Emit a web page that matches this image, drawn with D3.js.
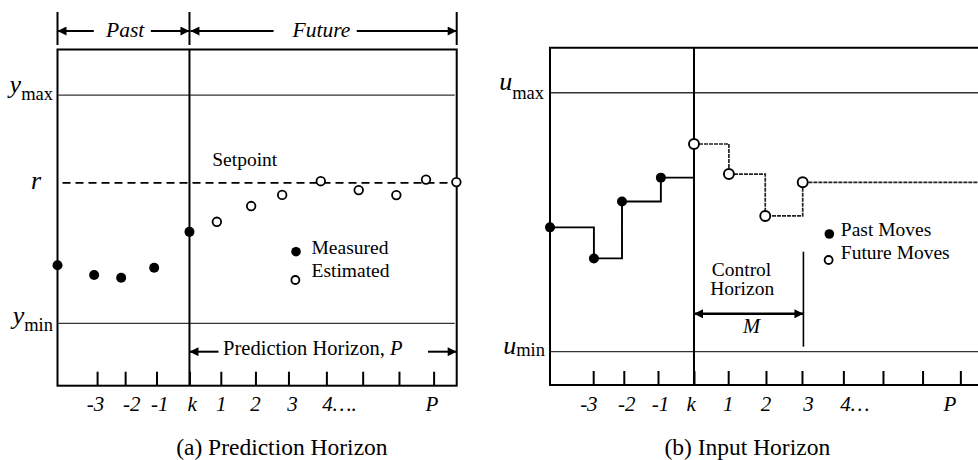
<!DOCTYPE html>
<html lang="en">

<head>
    <meta charset="UTF-8">
    <title>MPC horizons</title>
    <script src="https://cdn.jsdelivr.net/npm/d3@7"></script>
    <style>
        body {
            margin: 0;
            background: #fff;
        }

        svg {
            display: block;
        }

        text {
            font-family: "Liberation Serif", "Times New Roman", serif;
            fill: #000;
        }
    </style>
</head>

<body>
    <svg width="978" height="460"></svg>
    <script>
        // time axis, k = 0; tick marks are shared by both panels
        var tickPos = [-2.8, -1.95, -1, 0, 0.95, 2, 3, 4.15, 5.25, 6.35, 7.4];
        var leftTickLabels = ['-3', '-2', '-1', 'k', '1', '2', '3', '4….', 'P'];
        var leftLabelPos = [-2.85, -1.75, -0.9, 0.08, 0.96, 2, 3.12, 4.55, 7.35];
        var rightTickLabels = ['-3', '-2', '-1', 'k', '1', '2', '3', '4…', 'P'];
        var rightLabelPos = [-2.92, -1.87, -0.93, -0.08, 0.95, 2, 3.18, 4.47, 7.11];

        // (a) outputs: ymin = 0, ymax = 10
        var yMin = 0, yMax = 10, setpoint = 6.16;
        var measuredT = [-4, -2.89, -2.07, -1.07, 0];
        var measuredY = [2.55, 2.12, 2.0, 2.44, 4.01];
        var estimatedT = [0.83, 1.87, 2.81, 3.98, 5.13, 6.27, 7.17, 8.09];
        var estimatedY = [4.45, 5.14, 5.63, 6.23, 5.84, 5.62, 6.3, 6.19];

        // (b) inputs: umin = 0, umax = 10
        var uMin = 0, uMax = 10;
        var pastMoveT = [-4, -2.78, -2.0, -0.92];
        var pastMoveU = [4.8, 3.6, 5.8, 6.72];
        var futureMoveT = [0, 0.97, 1.98, 3.02];
        var futureMoveU = [8.02, 6.86, 5.24, 6.54];
        var controlHorizon = 3.04;

        var svg = d3.select('svg');

        // arrow head
        svg.append('defs').append('marker')
            .attr('id', 'arrow')
            .attr('viewBox', '0 0 10 10')
            .attr('refX', 10).attr('refY', 5)
            .attr('markerUnits', 'userSpaceOnUse')
            .attr('markerWidth', 11).attr('markerHeight', 9)
            .attr('orient', 'auto-start-reverse')
            .append('path').attr('d', 'M0,0L10,5L0,10z').attr('fill', '#000');

        function line(g, x1, y1, x2, y2, w, color) {
            return g.append('line')
                .attr('x1', x1).attr('y1', y1).attr('x2', x2).attr('y2', y2)
                .attr('stroke', color || '#000').attr('stroke-width', w);
        }

        function txt(g, x, y, s, size, opts) {
            opts = opts || {};
            return g.append('text').attr('x', x).attr('y', y).text(s)
                .attr('font-size', size)
                .attr('font-style', opts.italic ? 'italic' : null)
                .attr('text-anchor', opts.anchor || 'start');
        }

        // italic letter with small roman subscript, e.g. y max
        function limitLabel(g, x, y, main, sub, drop) {
            var t = g.append('text').attr('x', x).attr('y', y).attr('text-anchor', 'end');
            t.append('tspan').text(main).attr('font-style', 'italic').attr('font-size', 26);
            t.append('tspan').text(sub).attr('font-size', 18.5).attr('dy', drop);
        }

        function ticks(g, x, bottom) {
            var axis = d3.axisBottom(x).tickValues(tickPos).tickFormat('')
                .tickSizeInner(-14).tickSizeOuter(0);
            var a = g.append('g').attr('transform', 'translate(0,' + bottom + ')').call(axis);
            a.select('.domain').remove();
            a.selectAll('.tick line').attr('stroke', '#000').attr('stroke-width', 2);
        }

        function tickLabels(g, x, pos, labels) {
            g.selectAll('.tlab').data(labels).enter().append('text')
                .attr('class', 'tlab')
                .attr('x', function (d, i) { return x(pos[i]); })
                .attr('y', 411)
                .attr('text-anchor', 'middle')
                .attr('font-size', 21)
                .attr('font-style', 'italic')
                .text(function (d) { return d; });
        }

        // ---------- (a) Prediction Horizon ----------
        var xa = d3.scaleLinear().domain([-4, 8.1]).range([57.5, 456.7]);
        var ya = d3.scaleLinear().domain([-2.73, 12]).range([385.7, 49.5]);
        var ga = svg.append('g');

        line(ga, xa(-4) + 1, ya(yMax), xa(8.1) - 2, ya(yMax), 1.3, '#333');
        line(ga, xa(-4) + 1, ya(yMin), xa(8.1) - 2, ya(yMin), 1.3, '#333');
        line(ga, xa(-4) + 5, ya(setpoint), xa(8.1) - 2, ya(setpoint), 1.7)
            .attr('stroke-dasharray', '8,5');

        ga.append('rect')
            .attr('x', xa(-4)).attr('y', ya(12))
            .attr('width', xa(8.1) - xa(-4)).attr('height', ya(-2.73) - ya(12))
            .attr('fill', 'none').attr('stroke', '#000').attr('stroke-width', 2);
        line(ga, xa(0), ya(12), xa(0), ya(-2.73), 2);
        ticks(ga, xa, ya(-2.73));
        tickLabels(ga, xa, leftLabelPos, leftTickLabels);

        // past / future bracket
        [xa(-4), xa(0), xa(8.1)].forEach(function (x) { line(ga, x, 12, x, 45, 2); });
        line(ga, xa(-2.9), 31, xa(-4), 31, 2).attr('marker-end', 'url(#arrow)');
        line(ga, xa(-1.17), 31, xa(0), 31, 2).attr('marker-end', 'url(#arrow)');
        line(ga, xa(2.55), 31, xa(0) + 1, 31, 2).attr('marker-end', 'url(#arrow)');
        line(ga, xa(5.07), 31, xa(8.1), 31, 2).attr('marker-end', 'url(#arrow)');
        txt(ga, xa(-1.95), 37, 'Past', 21.5, { italic: true, anchor: 'middle' });
        txt(ga, xa(4.0), 37, 'Future', 21.5, { italic: true, anchor: 'middle' });

        // prediction horizon
        line(ga, xa(0.88), ya(-1.24), xa(0), ya(-1.24), 2).attr('marker-end', 'url(#arrow)');
        line(ga, xa(7.23), ya(-1.24), xa(8.1), ya(-1.24), 2).attr('marker-end', 'url(#arrow)');
        var ph = txt(ga, xa(1.02), 355, 'Prediction Horizon, ', 20.5);
        ph.append('tspan').attr('font-style', 'italic').text('P');

        txt(ga, xa(0.69), 166, 'Setpoint', 19.5);
        limitLabel(ga, 53, ya(yMax) - 2, 'y', 'max', 7);
        limitLabel(ga, 53, ya(yMin) + 1, 'y', 'min', 7);
        txt(ga, 41, ya(setpoint) + 6, 'r', 26, { italic: true, anchor: 'end' });

        ga.selectAll('.meas').data(measuredT).enter().append('circle')
            .attr('cx', function (d) { return xa(d); })
            .attr('cy', function (d, i) { return ya(measuredY[i]); })
            .attr('r', 5).attr('fill', '#000');
        ga.selectAll('.est').data(estimatedT).enter().append('circle')
            .attr('cx', function (d) { return xa(d); })
            .attr('cy', function (d, i) { return ya(estimatedY[i]); })
            .attr('r', 4.3).attr('fill', '#fff').attr('stroke', '#000').attr('stroke-width', 1.8);

        // legend
        ga.append('circle').attr('cx', xa(3.23)).attr('cy', ya(3.14)).attr('r', 4.8).attr('fill', '#000');
        ga.append('circle').attr('cx', xa(3.21)).attr('cy', ya(1.9)).attr('r', 4)
            .attr('fill', '#fff').attr('stroke', '#000').attr('stroke-width', 1.8);
        txt(ga, xa(3.7), 254, 'Measured', 19.5);
        txt(ga, xa(3.7), 277, 'Estimated', 19.5);

        txt(ga, xa(2.8), 455, '(a) Prediction Horizon', 23.5, { anchor: 'middle' });

        // ---------- (b) Input Horizon ----------
        var xb = d3.scaleLinear().domain([-4, 7.89]).range([550, 978]);
        var yb = d3.scaleLinear().domain([-1.29, 11.74]).range([385, 47.7]);
        var gb = svg.append('g');

        line(gb, xb(-4) + 1, yb(uMax), 980, yb(uMax), 1.3, '#333');
        line(gb, xb(-4) + 1, yb(uMin), 980, yb(uMin), 1.3, '#333');

        gb.append('path')
            .attr('d', 'M980,' + yb(11.74) + 'H' + xb(-4) + 'V' + yb(-1.29) + 'H980')
            .attr('fill', 'none').attr('stroke', '#000').attr('stroke-width', 2);
        line(gb, xb(0), yb(11.74), xb(0), yb(-1.29), 2);
        ticks(gb, xb, yb(-1.29));
        tickLabels(gb, xb, rightLabelPos, rightTickLabels);

        var step = d3.line().curve(d3.curveStepAfter)
            .x(function (d) { return xb(d[0]); })
            .y(function (d) { return yb(d[1]); });

        var pastPts = pastMoveT.map(function (t, i) { return [t, pastMoveU[i]]; });
        pastPts.push([0, pastMoveU[pastMoveU.length - 1]]);
        gb.append('path').attr('d', step(pastPts))
            .attr('fill', 'none').attr('stroke', '#000').attr('stroke-width', 1.9);

        var futurePts = futureMoveT.map(function (t, i) { return [t, futureMoveU[i]]; });
        futurePts.push([7.95, futureMoveU[futureMoveU.length - 1]]);
        gb.append('path').attr('d', step(futurePts))
            .attr('fill', 'none').attr('stroke', '#222').attr('stroke-width', 1.7)
            .attr('stroke-dasharray', '4,1');

        gb.selectAll('.past').data(pastMoveT).enter().append('circle')
            .attr('cx', function (d) { return xb(d); })
            .attr('cy', function (d, i) { return yb(pastMoveU[i]); })
            .attr('r', 5).attr('fill', '#000');
        gb.selectAll('.fut').data(futureMoveT).enter().append('circle')
            .attr('cx', function (d) { return xb(d); })
            .attr('cy', function (d, i) { return yb(futureMoveU[i]); })
            .attr('r', 5).attr('fill', '#fff').attr('stroke', '#000').attr('stroke-width', 1.9);

        // control horizon
        line(gb, xb(0), yb(1.46), xb(controlHorizon), yb(1.46), 2.5)
            .attr('marker-start', 'url(#arrow)').attr('marker-end', 'url(#arrow)');
        line(gb, xb(controlHorizon), yb(3.86), xb(controlHorizon), yb(0.19), 1.6);
        txt(gb, xb(1.32), 276, 'Control', 19.5, { anchor: 'middle' });
        txt(gb, xb(1.34), 295, 'Horizon', 19.5, { anchor: 'middle' });
        txt(gb, xb(1.6), 333, 'M', 20.5, { italic: true, anchor: 'middle' });

        limitLabel(gb, 544, yb(uMax) - 3, 'u', 'max', 9);
        limitLabel(gb, 545, yb(uMin) + 2, 'u', 'min', 2);

        // legend
        gb.append('circle').attr('cx', xb(3.76)).attr('cy', 234).attr('r', 4.8).attr('fill', '#000');
        gb.append('circle').attr('cx', xb(3.74)).attr('cy', 260).attr('r', 4)
            .attr('fill', '#fff').attr('stroke', '#000').attr('stroke-width', 1.8);
        txt(gb, xb(4.08), 236, 'Past Moves', 19.5);
        txt(gb, xb(4.08), 259, 'Future Moves', 19.5);

        txt(gb, xb(1.48), 455, '(b) Input Horizon', 23.5, { anchor: 'middle' });
    </script>
</body>

</html>
